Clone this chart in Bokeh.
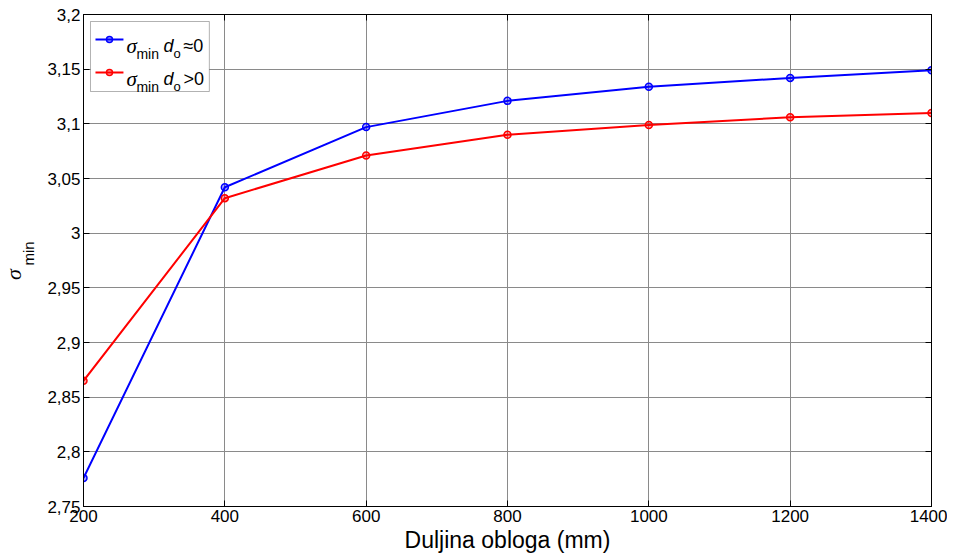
import math
from bokeh.plotting import figure
from bokeh.layouts import row
from bokeh.models import (Label, BoxAnnotation, LinearAxis, FixedTicker,
                          CustomJSTickFormatter, Range1d)
from bokeh.core.properties import value
from bokeh.embed import file_html
from bokeh.resources import INLINE

# ---------------- data ----------------
length_mm = [200, 400, 600, 800, 1000, 1200, 1400]
sigma_do_zero = [2.776, 3.042, 3.097, 3.121, 3.134, 3.142, 3.149]
sigma_do_pos = [2.865, 3.032, 3.071, 3.090, 3.099, 3.106, 3.110]
x_ticks = [200, 400, 600, 800, 1000, 1200, 1400]
y_ticks = [2.75, 2.8, 2.85, 2.9, 2.95, 3.0, 3.05, 3.1, 3.15, 3.2]
x_title = "Duljina obloga (mm)"
y_title_main, y_title_sub = "σ", "min"
series_names = [("≈0", "blue"), (">0", "red")]

X0, X1 = 200, 1400
Y0, Y1 = 2.75, 3.2

# ---------------- layout (page pixels) ----------------
LW = 44                      # narrow strip holding the y title
W, H = 903, 556
BL, BR, BT, BB = 38, 16, 14, 50
FL, FR, FT, FB = LW + BL, LW + W - BR, BT, H - BB

FONT = "Liberation Sans"


def dx(px):
    return X0 + (px - FL) * (X1 - X0) / (FR - FL)


def dy(py):
    return Y1 - (py - FT) * (Y1 - Y0) / (FB - FT)


# ---------------- y title strip ----------------
s = figure(frame_width=LW, frame_height=H, output_backend="svg",
           toolbar_location=None, title=None,
           x_range=Range1d(0, LW), y_range=Range1d(H, 0),
           x_axis_location=None, y_axis_location=None,
           min_border_left=0, min_border_right=0, min_border_top=0,
           min_border_bottom=0)
s.outline_line_color = None
s.xgrid.visible = False
s.ygrid.visible = False
s.border_fill_color = "white"
s.background_fill_color = "white"
s.text(x=[13], y=[260], text=[y_title_main], angle=math.pi / 2,
       text_font=value("Liberation Serif"), text_font_style="italic",
       text_font_size="22px", text_color="black",
       text_baseline="middle", text_align="center")
s.text(x=[28], y=[239], text=[y_title_sub], angle=math.pi / 2,
       text_font=value(FONT), text_font_size="15px", text_color="black",
       text_baseline="middle", text_align="center")

# ---------------- main figure ----------------
p = figure(width=W, height=H, output_backend="svg", toolbar_location=None,
           x_range=Range1d(X0, X1), y_range=Range1d(Y0, Y1),
           min_border_left=BL, min_border_right=BR, min_border_top=BT,
           min_border_bottom=BB)
p.outline_line_color = "black"
p.outline_line_width = 1
p.background_fill_color = "white"
p.border_fill_color = "white"

fmt = CustomJSTickFormatter(code="""
return tick.toFixed(2).replace(/\\.?0+$/, '').replace('.', ',');
""")
empty_fmt = CustomJSTickFormatter(code="return '';")

p.xaxis.ticker = FixedTicker(ticks=x_ticks)
p.yaxis.ticker = FixedTicker(ticks=y_ticks)
p.yaxis.formatter = fmt
for ax in (p.xaxis[0], p.yaxis[0]):
    ax.major_tick_in = 6
    ax.major_tick_out = 0
    ax.minor_tick_in = 0
    ax.minor_tick_out = 0
    ax.axis_line_color = "black"
    ax.major_tick_line_color = "black"
    ax.major_label_text_font = FONT
    ax.major_label_text_font_size = "17px"
    ax.major_label_text_color = "black"
    ax.major_label_standoff = 3

p.xaxis.axis_label = x_title
p.xaxis.axis_label_text_font = FONT
p.xaxis.axis_label_text_font_size = "23px"
p.xaxis.axis_label_text_font_style = "normal"
p.xaxis.axis_label_text_color = "black"
p.xaxis.axis_label_standoff = 2

# box axes (right / top) with inward ticks, no labels
for loc, tk in (("right", y_ticks), ("above", x_ticks)):
    ax = LinearAxis(ticker=FixedTicker(ticks=tk), formatter=empty_fmt,
                    major_tick_in=6, major_tick_out=0, minor_tick_in=0,
                    minor_tick_out=0, major_label_standoff=0,
                    major_label_text_font_size="0px",
                    axis_line_color="black", major_tick_line_color="black")
    p.add_layout(ax, loc)

p.xgrid.ticker = FixedTicker(ticks=x_ticks)
p.ygrid.ticker = FixedTicker(ticks=y_ticks)
for g in (p.xgrid[0], p.ygrid[0]):
    g.grid_line_color = "#8a8a8a"
    g.grid_line_width = 1

# ---------------- data series ----------------
for ys, (_, col) in zip((sigma_do_zero, sigma_do_pos), series_names):
    p.line(length_mm, ys, line_color=col, line_width=2)
    p.scatter(length_mm, ys, marker="circle", size=7, line_color=col,
              line_width=1.5, fill_color=col, fill_alpha=0.35)

# ---------------- legend (drawn manually for sub-scripts) ----------------
box = BoxAnnotation(left=dx(89), right=dx(208), top=dy(21), bottom=dy(91),
                    fill_color="white", fill_alpha=1.0, line_color="black",
                    line_width=1, level="underlay")
p.add_layout(box)

row_y = [39, 72]
for (sym, col), ry in zip(series_names, row_y):
    p.segment(x0=[dx(94)], y0=[dy(ry)], x1=[dx(122)], y1=[dy(ry)],
              line_color=col, line_width=2)
    p.scatter([dx(108)], [dy(ry)], marker="circle", size=6, line_color=col,
              line_width=1.5, fill_color=col, fill_alpha=0.35)
    base = ry + 6
    sub = ry + 14
    p.add_layout(Label(x=dx(125), y=dy(base), text=y_title_main,
                       text_font="Liberation Serif", text_font_style="italic",
                       text_font_size="21px", text_color="black",
                       text_baseline="alphabetic", text_align="left"))
    p.add_layout(Label(x=dx(135), y=dy(sub), text=y_title_sub, text_font=FONT,
                       text_font_size="14px", text_color="black",
                       text_baseline="alphabetic", text_align="left"))
    p.add_layout(Label(x=dx(162), y=dy(base), text="d", text_font=FONT,
                       text_font_style="italic", text_font_size="18px",
                       text_color="black", text_baseline="alphabetic",
                       text_align="left"))
    p.add_layout(Label(x=dx(172), y=dy(sub), text="o", text_font=FONT,
                       text_font_size="13px", text_color="black",
                       text_baseline="alphabetic", text_align="left"))
    p.add_layout(Label(x=dx(182), y=dy(base), text=sym, text_font=FONT,
                       text_font_size="18px", text_color="black",
                       text_baseline="alphabetic", text_align="left"))

layout = row(s, p, spacing=0)
open("out.html", "w").write(file_html(layout, INLINE))
